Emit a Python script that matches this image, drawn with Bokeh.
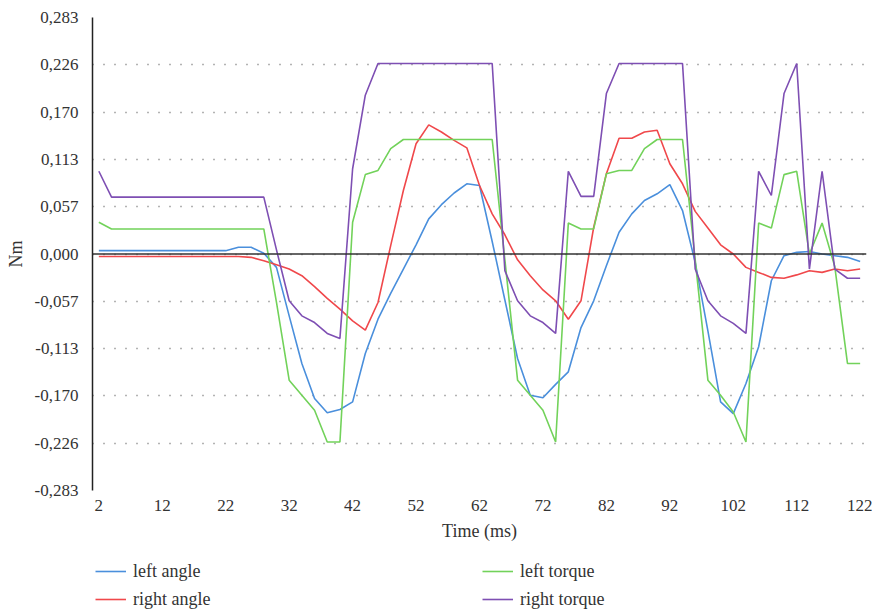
from bokeh.plotting import figure
from bokeh.layouts import column
from bokeh.models import Span, Legend, LegendItem, FixedTicker, Range1d
from bokeh.embed import file_html
from bokeh.resources import INLINE

time_ms = list(range(2, 124, 2))

left_angle = [0.004] * 11 + [
    0.008, 0.008, 0.001, -0.016, -0.074, -0.131, -0.173, -0.190, -0.186, -0.177,
    -0.119, -0.078, -0.047, -0.018, 0.011, 0.042, 0.059, 0.073, 0.084, 0.082,
    0.015, -0.055, -0.125, -0.169, -0.172, -0.156, -0.141, -0.088, -0.056, -0.014,
    0.026, 0.048, 0.064, 0.072, 0.083, 0.052, -0.010, -0.092, -0.177, -0.191,
    -0.155, -0.111, -0.032, -0.002, 0.002, 0.003, 0.000, -0.002, -0.004, -0.009]

right_angle = [-0.003] * 12 + [
    -0.004, -0.008, -0.013, -0.018, -0.026, -0.039, -0.053, -0.066, -0.080,
    -0.091, -0.058, 0.010, 0.076, 0.132, 0.1545, 0.146, 0.136, 0.127, 0.082,
    0.048, 0.023, -0.007, -0.026, -0.043, -0.056, -0.078, -0.056, 0.032, 0.096,
    0.1385, 0.1385, 0.146, 0.148, 0.108, 0.084, 0.051, 0.031, 0.011, 0.000,
    -0.016, -0.022, -0.028, -0.029, -0.025, -0.020, -0.022, -0.018, -0.020, -0.018]

left_torque = [0.038] + [0.030] * 13 + [
    -0.058, -0.151, -0.169, -0.187, -0.225, -0.225, 0.038, 0.095, 0.100, 0.126,
    0.137] + [0.137] * 7 + [
    -0.007, -0.151, -0.169, -0.187, -0.225, 0.037, 0.030, 0.030, 0.096, 0.100,
    0.100, 0.126, 0.137, 0.137, 0.137, -0.007, -0.151, -0.169, -0.189, -0.225,
    0.037, 0.031, 0.095, 0.099, 0.000, 0.037, -0.015, -0.131, -0.131]

right_torque = [0.099] + [0.068] * 13 + [
    0.005, -0.056, -0.074, -0.082, -0.095, -0.101, 0.102, 0.190] + [0.228] * 10 + [
    -0.020, -0.056, -0.074, -0.082, -0.095, 0.099, 0.069, 0.069, 0.192] + [0.228] * 6 + [
    -0.018, -0.056, -0.074, -0.083, -0.095, 0.099, 0.070, 0.192, 0.228, -0.018,
    0.099, -0.018, -0.029, -0.029]

series_names = ["left angle", "left torque", "right angle", "right torque"]
series_colors = ["#4a8fdc", "#72d25a", "#f0484b", "#7e4fb3"]

x_ticks = list(range(2, 123, 10))
y_ticks = [-0.283, -0.2264, -0.1698, -0.1132, -0.0566, 0.0,
           0.0566, 0.1132, 0.1698, 0.2264, 0.283]
y_tick_labels = ["-0,283", "-0,226", "-0,170", "-0,113", "-0,057", "0,000",
                 "0,057", "0,113", "0,170", "0,226", "0,283"]

FONT = "Liberation Serif"
TXT = "#333333"
LW = 1.6

p = figure(output_backend="svg", toolbar_location=None,
           frame_width=774, frame_height=473,
           x_range=Range1d(1, 123), y_range=Range1d(-0.283, 0.283),
           min_border_left=92, min_border_right=6, min_border_top=17,
           min_border_bottom=57)
p.outline_line_color = None
p.background_fill_color = "white"

# grid
p.xgrid.grid_line_color = None
p.ygrid.ticker = FixedTicker(ticks=y_ticks)
p.ygrid.grid_line_color = "#666666"
p.ygrid.grid_line_dash = "1 10"
p.ygrid.grid_line_width = 1.3

# axes
p.xaxis.ticker = FixedTicker(ticks=x_ticks)
p.xaxis.axis_line_color = None
p.xaxis.major_tick_line_color = None
p.xaxis.minor_tick_line_color = None
p.xaxis.axis_label = "Time (ms)"
p.xaxis.major_label_standoff = 3
p.xaxis.axis_label_standoff = 7

p.yaxis.ticker = FixedTicker(ticks=y_ticks)
p.yaxis.major_label_overrides = {t: l for t, l in zip(y_ticks, y_tick_labels)}
p.yaxis.axis_line_color = "#222222"
p.yaxis.axis_line_width = 1.5
p.yaxis.major_tick_line_color = None
p.yaxis.minor_tick_line_color = None
p.yaxis.axis_label = "Nm"
p.yaxis.major_label_standoff = 8
p.yaxis.axis_label_standoff = 6

for ax in (p.xaxis, p.yaxis):
    ax.major_label_text_font = FONT
    ax.major_label_text_font_size = "17px"
    ax.major_label_text_color = TXT
    ax.axis_label_text_font = FONT
    ax.axis_label_text_font_size = "18px"
    ax.axis_label_text_font_style = "normal"
    ax.axis_label_text_color = TXT

p.add_layout(Span(location=0, dimension="width", line_color="#333333",
                  line_width=1.6))

data = {"left angle": left_angle, "left torque": left_torque,
        "right angle": right_angle, "right torque": right_torque}
draw_order = ["left angle", "right angle", "left torque", "right torque"]
for name in draw_order:
    color = series_colors[series_names.index(name)]
    p.line(time_ms, data[name], line_color=color, line_width=LW)

# legend strip below the chart (its own ranges keep the key lines off-screen)
lg = figure(output_backend="svg", toolbar_location=None,
            width=872, height=66, x_range=Range1d(1000, 1001),
            y_range=Range1d(0, 1),
            x_axis_location=None, y_axis_location=None, min_border=0)
lg.outline_line_color = None
lg.xgrid.grid_line_color = None
lg.ygrid.grid_line_color = None
key_renderers = {}
for name, color in zip(series_names, series_colors):
    key_renderers[name] = lg.line(time_ms, data[name], line_color=color,
                                  line_width=LW)

items = [LegendItem(label=n, renderers=[key_renderers[n]]) for n in series_names]
legend = Legend(items=items, orientation="horizontal", ncols=2,
                location=(3, 2), label_width=345, glyph_width=31,
                glyph_height=24, label_height=24, label_standoff=7,
                spacing=4, padding=0, margin=0,
                label_text_font=FONT, label_text_font_size="18px",
                label_text_color=TXT, border_line_color=None,
                background_fill_alpha=0)
lg.add_layout(legend, "center")

layout = column(p, lg, spacing=0)
open("out.html", "w").write(file_html(layout, INLINE))
